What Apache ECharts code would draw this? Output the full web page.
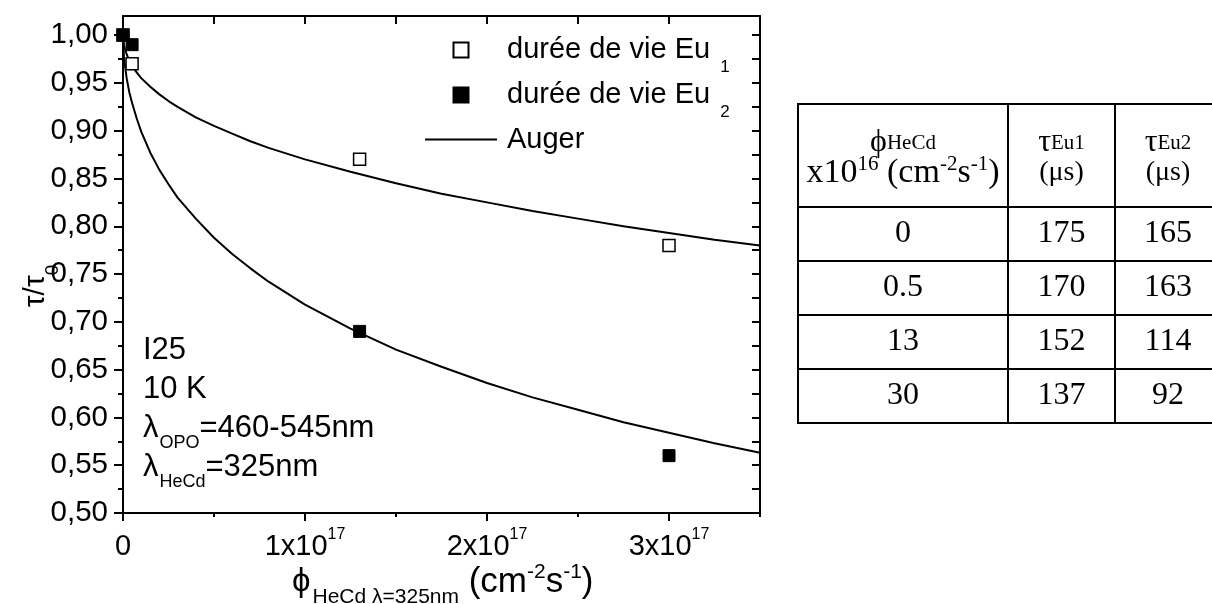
<!DOCTYPE html>
<html><head><meta charset="utf-8">
<script src="https://cdn.jsdelivr.net/npm/echarts@6/dist/echarts.min.js"></script>
<style>html,body{margin:0;padding:0;background:#fff}#c{width:1212px;height:604px}</style>
</head><body><div id="c"></div>
<script>
// ---------- DATA ----------
const eu1X = [0, 0.05e17, 1.3e17, 3.0e17];
const eu1Y = [1.00, 0.97, 0.87, 0.78];
const eu2X = [0, 0.05e17, 1.3e17, 3.0e17];
const eu2Y = [1.00, 0.99, 0.69, 0.56];
const augerX = [0, 0.005e17, 0.01e17, 0.02e17, 0.035e17, 0.05e17, 0.075e17, 0.1e17, 0.15e17, 0.2e17, 0.25e17, 0.3e17, 0.4e17, 0.5e17, 0.6e17, 0.7e17, 0.8e17, 0.9e17, 1.0e17,
  1.25e17, 1.5e17, 1.75e17, 2.0e17, 2.25e17, 2.5e17, 2.75e17, 3.0e17, 3.25e17, 3.5e17];
const auger1Y = [1.0, 0.990, 0.986, 0.980, 0.973, 0.968, 0.961, 0.955, 0.946, 0.938, 0.931, 0.925, 0.914, 0.905, 0.897, 0.889, 0.882, 0.876, 0.870,
  0.857, 0.845, 0.834, 0.825, 0.816, 0.808, 0.800, 0.793, 0.786, 0.780];
const auger2Y = [1.0, 0.978, 0.969, 0.955, 0.940, 0.929, 0.913, 0.899, 0.877, 0.859, 0.844, 0.830, 0.808, 0.788, 0.771, 0.756, 0.742, 0.730, 0.718,
  0.693, 0.671, 0.653, 0.636, 0.621, 0.608, 0.595, 0.584, 0.573, 0.563];

const xMajorTicks = [0, 1e17, 2e17, 3e17];
const xMinorTicks = [0.5e17, 1.5e17, 2.5e17, 3.5e17];
const xTopTicks = [0, 0.5e17, 1e17, 1.5e17, 2e17, 2.5e17, 3e17, 3.5e17];
const yMajorTicks = [0.50, 0.55, 0.60, 0.65, 0.70, 0.75, 0.80, 0.85, 0.90, 0.95, 1.00];
const yMinorTicks = [0.525, 0.575, 0.625, 0.675, 0.725, 0.775, 0.825, 0.875, 0.925, 0.975];
const yRightTicks = [0.50, 0.525, 0.55, 0.575, 0.60, 0.625, 0.65, 0.675, 0.70, 0.725, 0.75, 0.775, 0.80, 0.825, 0.85, 0.875, 0.90, 0.925, 0.95, 0.975, 1.00];

const tablePhi = ['0', '0.5', '13', '30'];
const tableEu1 = ['175', '170', '152', '137'];
const tableEu2 = ['165', '163', '114', '92'];

const annotLines = [
  '{m|I25}',
  '{m|10 K}',
  '{m|λ}{b|OPO}{m|=460-545nm}',
  '{m|λ}{b|HeCd}{m|=325nm}'
];

// ---------- LAYOUT / STYLE ----------
const FONT = '"Liberation Sans", Arial, sans-serif';
const SERIF = '"Liberation Serif", "Times New Roman", serif';
const tableColX = [798, 1008, 1115, 1221];
const tableRowY = [104, 207, 261, 315, 369, 423];

const pair = (xs, ys) => xs.map((x, i) => [x, ys[i]]);
const axLine = { show: true, onZero: false, lineStyle: { color: '#000', width: 2 } };
const tickStyle = { color: '#000', width: 2 };

const chart = echarts.init(document.getElementById('c'));

const graphic = [];
annotLines.forEach((t, i) => {
  graphic.push({
    type: 'text', x: 143, y: 350 + i * 39, z: 10,
    style: {
      text: t, align: 'left', verticalAlign: 'middle', fill: '#000',
      rich: {
        m: { fontFamily: FONT, fontSize: 31, lineHeight: 34, fill: '#000' },
        b: { fontFamily: FONT, fontSize: 18, lineHeight: 18, verticalAlign: 'top', padding: [23, 0, 0, 1], fill: '#000' }
      }
    }
  });
});
// y axis title
graphic.push({
  type: 'text', x: 36, y: 286, rotation: Math.PI / 2,
  style: {
    text: '{m|τ/τ}{b|0}', align: 'center', verticalAlign: 'middle', fill: '#000',
    rich: {
      m: { fontFamily: FONT, fontSize: 30, lineHeight: 34, fill: '#000' },
      b: { fontFamily: FONT, fontSize: 19, lineHeight: 19, verticalAlign: 'top', padding: [24, 0, 0, 0], fill: '#000' }
    }
  }
});
// x axis title
graphic.push({
  type: 'text', x: 292, y: 582,
  style: {
    text: '{p|ϕ}{b|HeCd λ=325nm}{m| (cm}{s|-2}{m|s}{s|-1}{m|)}', align: 'left', verticalAlign: 'middle', fill: '#000',
    rich: {
      p: { fontFamily: FONT, fontSize: 33, lineHeight: 40, fill: '#000' },
      m: { fontFamily: FONT, fontSize: 35, lineHeight: 40, fill: '#000' },
      b: { fontFamily: FONT, fontSize: 21, lineHeight: 21, verticalAlign: 'top', padding: [25, 0, 0, 2], fill: '#000' },
      s: { fontFamily: FONT, fontSize: 21, lineHeight: 21, verticalAlign: 'top', fill: '#000' }
    }
  }
});
// table
const tLeft = tableColX[0], tRight = tableColX[tableColX.length - 1];
const tTop = tableRowY[0], tBot = tableRowY[tableRowY.length - 1];
tableRowY.forEach(y => graphic.push({ type: 'line', shape: { x1: tLeft - 1, y1: y, x2: tRight + 1, y2: y }, style: { stroke: '#000', lineWidth: 2 } }));
tableColX.forEach(x => graphic.push({ type: 'line', shape: { x1: x, y1: tTop, x2: x, y2: tBot }, style: { stroke: '#000', lineWidth: 2 } }));
const cx = c => (tableColX[c] + tableColX[c + 1]) / 2;
const tRich = {
  g: { fontFamily: SERIF, fontSize: 32, lineHeight: 34, fill: '#000' },
  h: { fontFamily: SERIF, fontSize: 21, lineHeight: 34, fill: '#000' },
  m: { fontFamily: SERIF, fontSize: 34, lineHeight: 38, fill: '#000' },
  u: { fontFamily: SERIF, fontSize: 28, lineHeight: 38, fill: '#000' },
  s: { fontFamily: SERIF, fontSize: 21, lineHeight: 21, verticalAlign: 'top', fill: '#000' }
};
const headerLines = [
  ['{g|ϕ}{h|HeCd}', '{m|x10}{s|16}{m| (cm}{s|-2}{m|s}{s|-1}{m|)}'],
  ['{g|τ}{h|Eu1}', '{u|(μs)}'],
  ['{g|τ}{h|Eu2}', '{u|(μs)}']
];
headerLines.forEach((hl, c) => {
  graphic.push({ type: 'text', x: cx(c), y: 143, style: { text: hl[0], align: 'center', verticalAlign: 'middle', rich: tRich } });
  graphic.push({ type: 'text', x: cx(c), y: 173, style: { text: hl[1], align: 'center', verticalAlign: 'middle', rich: tRich } });
});
[tablePhi, tableEu1, tableEu2].forEach((col, c) => {
  col.forEach((v, r) => {
    graphic.push({
      type: 'text', x: cx(c), y: (tableRowY[r + 1] + tableRowY[r + 2]) / 2,
      style: { text: v, align: 'center', verticalAlign: 'middle', fontFamily: SERIF, fontSize: 32, fill: '#000' }
    });
  });
});

const legendText = { Eu1: '{a|durée de vie Eu}{s|1}', Eu2: '{a|durée de vie Eu}{s|2}', Auger: '{a|Auger}' };
const sqIcon = 'path://M0,0L10,0L10,10L0,10Z';
const lineIcon = 'path://M0,0L72,0L72,2L0,2Z';

chart.setOption({
  animation: false,
  backgroundColor: '#fff',
  grid: { left: 123, right: 452, top: 16, bottom: 91, containLabel: false, outerBoundsMode: 'none' },
  legend: {
    orient: 'vertical', left: 425, top: 35, padding: 0, itemWidth: 72, itemHeight: 15, itemGap: 4,
    symbolKeepAspect: true,
    data: [{ name: 'Eu1', icon: sqIcon }, { name: 'Eu2', icon: sqIcon }, { name: 'Auger', icon: lineIcon }],
    formatter: n => legendText[n],
    textStyle: {
      color: '#000', fontFamily: FONT, fontSize: 29,
      rich: {
        a: { fontFamily: FONT, fontSize: 29, lineHeight: 30, padding: [0, 0, 0, 5], color: '#000' },
        s: { fontFamily: FONT, fontSize: 17, lineHeight: 15, verticalAlign: 'top', padding: [24, 0, 0, 10], color: '#000' }
      }
    }
  },
  xAxis: [
    {
      type: 'value', min: 0, max: 3.5e17, position: 'bottom', axisLine: axLine, splitLine: { show: false },
      axisTick: { show: true, inside: false, length: 8, lineStyle: tickStyle, customValues: xMajorTicks },
      axisLabel: {
        show: true, customValues: xMajorTicks, margin: 14, color: '#000',
        formatter: v => v === 0 ? '{m|0}' : '{m|' + Math.round(v / 1e17) + 'x10}{s|17}',
        rich: {
          m: { fontFamily: FONT, fontSize: 29, lineHeight: 40, color: '#000' },
          s: { fontFamily: FONT, fontSize: 16, lineHeight: 16, verticalAlign: 'top', color: '#000' }
        }
      }
    },
    {
      type: 'value', min: 0, max: 3.5e17, position: 'top', axisLine: axLine, splitLine: { show: false },
      axisTick: { show: true, inside: true, length: 8, lineStyle: tickStyle, customValues: xTopTicks },
      axisLabel: { show: false }
    },
    {
      type: 'value', min: 0, max: 3.5e17, position: 'bottom', axisLine: { show: false, onZero: false }, splitLine: { show: false },
      axisTick: { show: true, inside: false, length: 4, lineStyle: tickStyle, customValues: xMinorTicks },
      axisLabel: { show: false }
    }
  ],
  yAxis: [
    {
      type: 'value', min: 0.5, max: 1.02, position: 'left', axisLine: axLine, splitLine: { show: false },
      axisTick: { show: true, inside: false, length: 9, lineStyle: tickStyle, customValues: yMajorTicks },
      axisLabel: {
        show: true, customValues: yMajorTicks, margin: 15, color: '#000', fontFamily: FONT, fontSize: 29.5,
        formatter: v => v.toFixed(2).replace('.', ',')
      }
    },
    {
      type: 'value', min: 0.5, max: 1.02, position: 'right', axisLine: axLine, splitLine: { show: false },
      axisTick: { show: true, inside: true, length: 8, lineStyle: tickStyle, customValues: yRightTicks },
      axisLabel: { show: false }
    },
    {
      type: 'value', min: 0.5, max: 1.02, position: 'left', axisLine: { show: false, onZero: false }, splitLine: { show: false },
      axisTick: { show: true, inside: false, length: 5, lineStyle: tickStyle, customValues: yMinorTicks },
      axisLabel: { show: false }
    }
  ],
  series: [
    {
      name: 'Auger', type: 'line', data: pair(augerX, auger1Y), symbol: 'none', showSymbol: false,
      smooth: false, lineStyle: { color: '#000', width: 2 }, itemStyle: { color: '#000' }, z: 2
    },
    {
      name: 'Auger', type: 'line', data: pair(augerX, auger2Y), symbol: 'none', showSymbol: false,
      smooth: false, lineStyle: { color: '#000', width: 2 }, itemStyle: { color: '#000' }, z: 2
    },
    {
      name: 'Eu1', type: 'scatter', data: pair(eu1X, eu1Y), symbol: 'rect', symbolSize: 12,
      itemStyle: { color: '#fff', borderColor: '#000', borderWidth: 1.5, opacity: 1 }, z: 3
    },
    {
      name: 'Eu2', type: 'scatter', data: pair(eu2X, eu2Y), symbol: 'rect', symbolSize: 12,
      itemStyle: { color: '#000', borderColor: '#000', borderWidth: 1, opacity: 1 }, z: 4
    }
  ],
  graphic: graphic
});
</script>
</body></html>
